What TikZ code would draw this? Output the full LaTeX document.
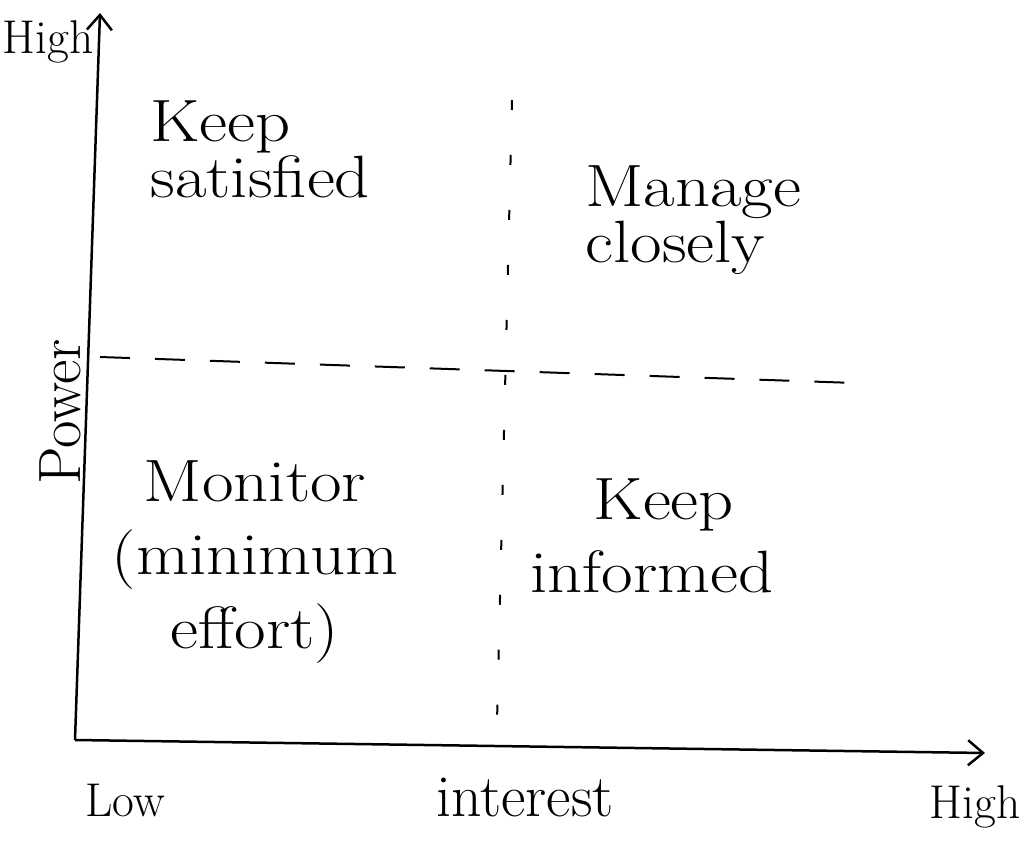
\documentclass[tikz,border=0pt]{standalone}
\usepackage{tikz}
\usetikzlibrary{arrows.meta}

\begin{document}
\begin{tikzpicture}[x=0.02cm, y=-0.02cm]
  \tikzset{%
  >={Straight Barb[length=3mm,width=5mm]},
  % Specifications for styles
  axis/.style = {line width=0.5mm, ->},
  split/.style = {line width=0.4mm, dashed, dash pattern=on 6mm off 5mm},
  splitv/.style = {line width=0.4mm, dash pattern=on 2mm off 9mm},
  quad/.style = {font=\fontsize{34}{32}\selectfont, align=left, anchor=north west,
                 inner sep=0pt, xscale=1.15, transform shape},
  wide/.style = {font=\fontsize{34}{42}\selectfont},
  axlabel/.style = {font=\fontsize{27}{30}\selectfont, inner sep=0pt},
  }
  \useasboundingbox (0,0) rectangle (1034,858);

  % axes
  \coordinate (origin) at (75,740);
  \coordinate (ytop) at (100,13);
  \coordinate (xend) at (985,753);
  \draw[axis] (origin) -- (ytop);
  \draw[axis] (origin) -- (xend);

  % quadrant split lines
  \coordinate (hl) at (100,357);
  \coordinate (hr) at (855,383);
  \coordinate (vt) at (512,100);
  \coordinate (vb) at (497,722);
  \draw[split] (hl) -- (hr);
  \draw[splitv] (vt) -- (vb);

  % axis labels
  \node (yhigh) [axlabel] at (48,42) {High};
  \node (power) [axlabel, font=\fontsize{34}{36}\selectfont, rotate=90] at (60,412) {Power};
  \node (xlow) [axlabel] at (125,800) {Low};
  \node (interest) [axlabel, font=\fontsize{34}{36}\selectfont] at (525,797) {interest};
  \node (xhigh) [axlabel] at (975,807) {High};

  % quadrants
  \node (satisfied) [quad] at (150,100) {Keep\\satisfied};
  \node (manage) [quad] at (585,165) {Manage\\closely};
  \node (monitor) [quad, wide, align=center, anchor=north] at (255,460) {Monitor\\(minimum\\effort)};
  \node (informed) [quad, wide] at (530,478) {\hspace*{1.1cm}Keep\\informed};

\end{tikzpicture}
\end{document}
